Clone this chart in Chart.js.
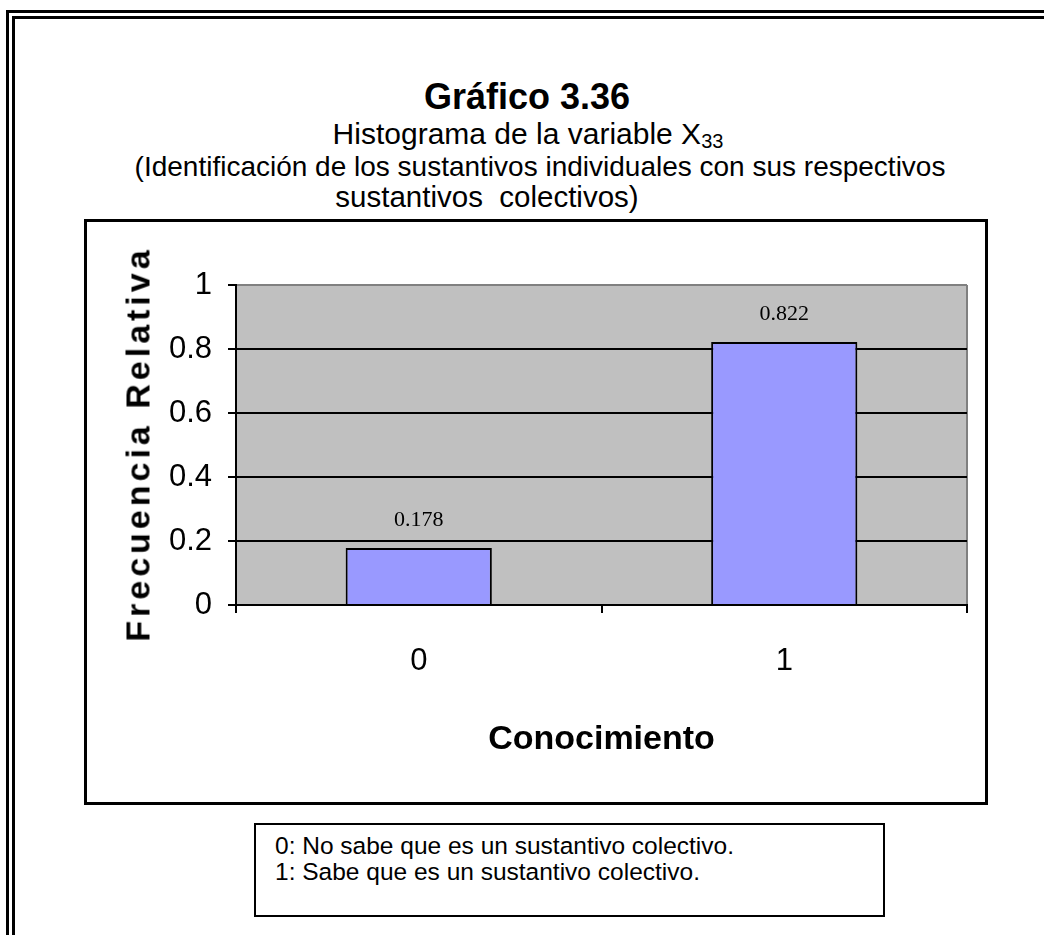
<!DOCTYPE html>
<html>
<head>
<meta charset="utf-8">
<script src="https://cdn.jsdelivr.net/npm/chart.js@4"></script>
<style>
  html, body { margin: 0; padding: 0; background: #fff; overflow: hidden; }
  body { width: 1044px; height: 935px; position: relative; font-family: "Liberation Sans", Arial, sans-serif; }
  .frame { position: absolute; border: 3px solid #000; width: 1200px; height: 1100px; }
  .t { position: absolute; white-space: nowrap; color: #000; transform: translate(-50%, -50%); }
  #box { position: absolute; left: 84px; top: 219px; width: 898px; height: 580px; border: 3px solid #000; }
  #yTitle { position: absolute; left: 138px; top: 444px; transform: translate(-50%, -50%) rotate(-90deg);
            font: bold 34px "Liberation Sans", Arial, sans-serif; letter-spacing: 4px; white-space: nowrap; }
  #legend { position: absolute; left: 254px; top: 823px; width: 627px; height: 90px; border: 2px solid #000;
            font: 24.5px "Liberation Sans", Arial, sans-serif; line-height: 26px; }
  #legend div { padding-left: 19px; }
</style>
</head>
<body>
<div class="frame" style="left:6px;top:10px"></div>
<div class="frame" style="left:12px;top:16px"></div>

<div class="t" style="left:527px;top:97px;font-weight:bold;font-size:36px">Gráfico 3.36</div>
<div class="t" style="left:528px;top:135px;font-size:30px">Histograma de la variable X<sub style="font-size:20px;vertical-align:-4px">33</sub></div>
<div class="t" style="left:540px;top:167px;font-size:28px">(Identificación de los sustantivos individuales con sus respectivos</div>
<div class="t" style="left:487px;top:197px;font-size:29.5px">sustantivos&nbsp; colectivos)</div>

<div id="box"><canvas id="chart" width="898" height="580"></canvas></div>
<div id="yTitle">Frecuencia Relativa</div>

<div id="legend">
  <div style="margin-top:8px">0: No sabe que es un sustantivo colectivo.</div>
  <div>1: Sabe que es un sustantivo colectivo.</div>
</div>

<script>
const categorias = ['0', '1'];
const frecuencias = [0.178, 0.822];
const yTicks = ['0', '0.2', '0.4', '0.6', '0.8', '1'];

const sans = '"Liberation Sans", Arial, sans-serif';

// gray plot background + gray right edge
const plotBg = {
  id: 'plotBg',
  beforeDraw(chart) {
    const { ctx, chartArea: a } = chart;
    ctx.save();
    ctx.fillStyle = '#c0c0c0';
    ctx.fillRect(a.left, a.top, a.right - a.left, a.bottom - a.top);
    ctx.strokeStyle = '#808080';
    ctx.lineWidth = 2;
    ctx.beginPath();
    ctx.moveTo(a.right, a.top);
    ctx.lineTo(a.right, a.bottom);
    ctx.stroke();
    ctx.restore();
  }
};

// value labels above bars
const barLabels = {
  id: 'barLabels',
  afterDatasetsDraw(chart) {
    const { ctx } = chart;
    const meta = chart.getDatasetMeta(0);
    ctx.save();
    ctx.font = '22px "Liberation Serif", "Times New Roman", serif';
    ctx.fillStyle = '#000';
    ctx.textAlign = 'center';
    ctx.textBaseline = 'alphabetic';
    meta.data.forEach((bar, i) => {
      ctx.fillText(frecuencias[i].toFixed(3), bar.x, bar.y - 22);
    });
    ctx.restore();
  }
};

new Chart(document.getElementById('chart'), {
  type: 'bar',
  data: {
    labels: categorias,
    datasets: [{
      data: frecuencias,
      backgroundColor: '#9999ff',
      borderColor: '#000',
      borderWidth: 2,
      categoryPercentage: 1,
      barPercentage: 0.4,
    }],
  },
  options: {
    responsive: false,
    animation: false,
    layout: { padding: { top: 63, right: 18, left: 0, bottom: 0 } },
    plugins: { legend: { display: false }, tooltip: { enabled: false } },
    scales: {
      x: {
        afterFit: s => { s.height = 197; },
        grid: { drawOnChartArea: false, offset: true, color: '#000', lineWidth: 2, tickLength: 8 },
        border: { color: '#000', width: 2 },
        ticks: { color: '#000', padding: 30, font: { family: sans, size: 31 } },
        title: {
          display: true, text: 'Conocimiento', color: '#000',
          font: { family: sans, size: 34, weight: 'bold' },
          padding: { top: 0, bottom: 42 },
        },
      },
      y: {
        min: 0, max: 1,
        afterFit: s => { s.width = 149; },
        grid: {
          color: c => (c.tick && c.tick.value === 1 ? '#808080' : '#000'),
          tickColor: '#000', lineWidth: 2, tickLength: 8,
        },
        border: { color: '#000', width: 2 },
        ticks: {
          stepSize: 0.2, color: '#000', padding: 16,
          font: { family: sans, size: 31 },
          callback: (v, i) => yTicks[i],
        },
      },
    },
  },
  plugins: [plotBg, barLabels],
});
</script>
</body>
</html>
